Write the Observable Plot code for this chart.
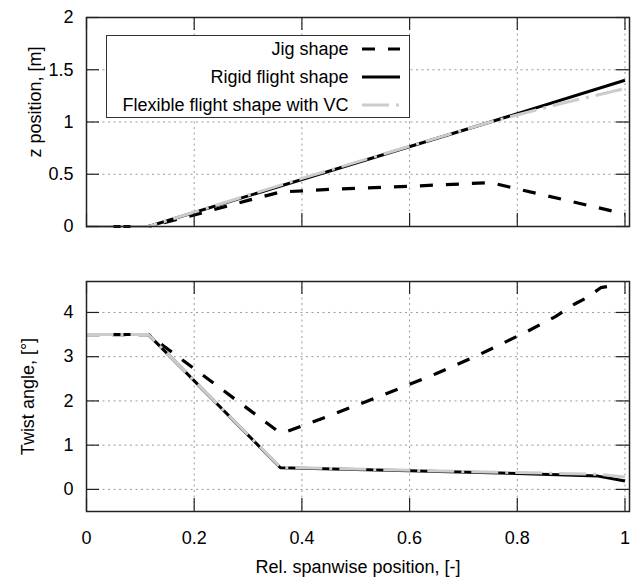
<!DOCTYPE html>
<html>
<head>
<meta charset="utf-8">
<script src="https://cdn.jsdelivr.net/npm/d3@7"></script>
<script src="https://cdn.jsdelivr.net/npm/@observablehq/plot@0.6"></script>
<style>
  html, body { margin: 0; padding: 0; background: #fff; }
  #wrap { position: relative; width: 632px; height: 583px; font-family: "Liberation Sans", Arial, Helvetica, sans-serif; }
  #wrap > .panel { position: absolute; left: 0; }
  #legend { position: absolute; box-sizing: border-box; background: #fff; border: 1px solid #333; }
  #legend .row { position: absolute; left: 0; height: 22px; display: flex; align-items: center; }
  #legend .lbl { font-size: 18px; line-height: 22px; color: #000; text-align: right; white-space: nowrap; }
</style>
</head>
<body>
<div id="wrap"></div>
<script>
// ---------- data ----------
const seriesNames = ["Jig shape", "Rigid flight shape", "Flexible flight shape with VC"];

const xTicks = [0, 0.2, 0.4, 0.6, 0.8, 1];
const zTicks = [0, 0.5, 1, 1.5, 2];
const twistTicks = [0, 1, 2, 3, 4];

const xLabel = "Rel. spanwise position, [-]";
const zLabel = "z position, [m]";
const twistLabel = "Twist angle, [°]";

// top panel: z position
const jigZx   = [0, 0.115, 0.2, 0.3, 0.36, 0.45, 0.6, 0.75, 1];
const jigZ    = [0, 0, 0.11, 0.25, 0.33, 0.355, 0.385, 0.42, 0.12];
const rigidZx = [0, 0.115, 0.4, 0.75, 1];
const rigidZ  = [0, 0, 0.45, 1.0, 1.40];
const flexZx  = [0, 0.115, 0.4, 0.75, 0.88, 1];
const flexZ   = [0, 0, 0.46, 1.0, 1.175, 1.32];

// bottom panel: twist angle
const jigTx   = [0, 0.115, 0.355, 0.37, 0.45, 0.55, 0.65, 0.73, 0.82, 0.87, 0.905, 0.93, 0.955, 0.975];
const jigT    = [3.5, 3.5, 1.32, 1.3, 1.66, 2.13, 2.62, 3.05, 3.58, 3.9, 4.18, 4.34, 4.56, 4.6];
const rigidTx = [0, 0.115, 0.36, 0.6, 0.8, 0.95, 1];
const rigidT  = [3.5, 3.5, 0.49, 0.42, 0.36, 0.30, 0.19];
const flexTx  = [0, 0.115, 0.36, 0.6, 0.8, 0.95, 1];
const flexT   = [3.5, 3.5, 0.5, 0.43, 0.38, 0.34, 0.28];

// ---------- styles ----------
const lineStyles = [
  {stroke: "#000", strokeWidth: 3.2, strokeDasharray: "13,13"},
  {stroke: "#000", strokeWidth: 3, strokeDasharray: null},
  {stroke: "#cccccc", strokeWidth: 3, strokeDasharray: "27,7,3,7"}
];
const font = "'Liberation Sans', Arial, Helvetica, sans-serif";
const FS = 18;
const W = 632, ML = 86, MR = 3;
const xDomain = [0, 1.0084];
const tickLen = 13;

const toRows = (xs, ys) => xs.map((x, i) => ({x, y: ys[i]}));

function panel({height, marginTop, marginBottom, yDomain, yTicks, gridYTicks, ylabel, ylabelDx, ylabelDy, showX, series}) {
  const fw = W - ML - MR;
  const fh = height - marginTop - marginBottom;
  const grid = {stroke: "#999", strokeOpacity: 1, strokeWidth: 1, strokeDasharray: "2,3.5"};
  const marks = [
    Plot.gridX(xTicks.filter(d => d > 0), grid),
    Plot.gridY(gridYTicks, grid),
    ...series.map((s, i) => Plot.line(s, {x: "x", y: "y", ...lineStyles[i], strokeLinecap: "butt", strokeLinejoin: "miter"})),
    Plot.frame({stroke: "#222", strokeWidth: 1.5}),
    Plot.tickY(yTicks, {y: d => d, stroke: "#222", strokeWidth: 1.2, insetRight: fw - tickLen}),
    Plot.tickY(yTicks, {y: d => d, stroke: "#222", strokeWidth: 1.2, insetLeft: fw - tickLen}),
    Plot.tickX(xTicks, {x: d => d, stroke: "#222", strokeWidth: 1.2, insetTop: fh - tickLen}),
    Plot.tickX(xTicks, {x: d => d, stroke: "#222", strokeWidth: 1.2, insetBottom: fh - tickLen}),
    Plot.axisY(yTicks, {tickSize: 0, tickPadding: 13, label: null, tickFormat: d => String(d), fontSize: FS}),
    Plot.text([ylabel], {text: d => d, frameAnchor: "left", rotate: -90, dx: ylabelDx, dy: ylabelDy, lineAnchor: "bottom", textAnchor: "middle", fontSize: FS, fill: "#000"})
  ];
  if (showX) {
    marks.push(Plot.axisX(xTicks, {tickSize: 0, tickPadding: 19.5, label: null, tickFormat: d => String(d), fontSize: FS}));
    marks.push(Plot.text([xLabel], {text: d => d, frameAnchor: "bottom", dy: 56, lineAnchor: "middle", textAnchor: "middle", fontSize: FS, fill: "#000"}));
  }
  return Plot.plot({
    width: W, height, marginLeft: ML, marginRight: MR, marginTop, marginBottom,
    style: {fontFamily: font, fontSize: FS + "px", background: "white", color: "#000", overflow: "visible"},
    x: {domain: xDomain, axis: null},
    y: {domain: yDomain, axis: null},
    marks
  });
}

const wrap = document.getElementById("wrap");

const topPanel = panel({
  height: 240, marginTop: 17, marginBottom: 14,
  yDomain: [0, 2], yTicks: zTicks, gridYTicks: [0.5, 1, 1.5],
  ylabel: zLabel, ylabelDx: -45.5, ylabelDy: -20, showX: false,
  series: [toRows(jigZx, jigZ), toRows(rigidZx, rigidZ), toRows(flexZx, flexZ)]
});
topPanel.classList.add("panel");
topPanel.style.top = "0px";
wrap.appendChild(topPanel);

const bottomPanel = panel({
  height: 343, marginTop: 41, marginBottom: 72,
  yDomain: [-0.5, 4.7], yTicks: twistTicks, gridYTicks: twistTicks,
  ylabel: twistLabel, ylabelDx: -52.5, ylabelDy: 0, showX: true,
  series: [toRows(jigTx, jigT), toRows(rigidTx, rigidT), toRows(flexTx, flexT)]
});
bottomPanel.classList.add("panel");
bottomPanel.style.top = "240px";
wrap.appendChild(bottomPanel);

// ---------- legend (inside top panel) ----------
const legend = document.createElement("div");
legend.id = "legend";
Object.assign(legend.style, {left: "105.5px", top: "34.5px", width: "304px", height: "83px"});
const rowCenters = [13.5, 41.5, 69.5];
seriesNames.forEach((name, i) => {
  const row = document.createElement("div");
  row.className = "row";
  row.style.top = (rowCenters[i] - 11) + "px";
  const lbl = document.createElement("div");
  lbl.className = "lbl";
  lbl.style.width = "242px";
  lbl.textContent = name;
  row.appendChild(lbl);
  const s = lineStyles[i];
  const svg = d3.create("svg").attr("width", 52).attr("height", 22).style("display", "block");
  svg.append("line").attr("x1", 13).attr("x2", 51).attr("y1", 11).attr("y2", 11)
    .attr("stroke", s.stroke).attr("stroke-width", s.strokeWidth)
    .attr("stroke-dasharray", s.strokeDasharray).attr("stroke-linecap", "butt");
  row.appendChild(svg.node());
  legend.appendChild(row);
});
wrap.appendChild(legend);
</script>
</body>
</html>
